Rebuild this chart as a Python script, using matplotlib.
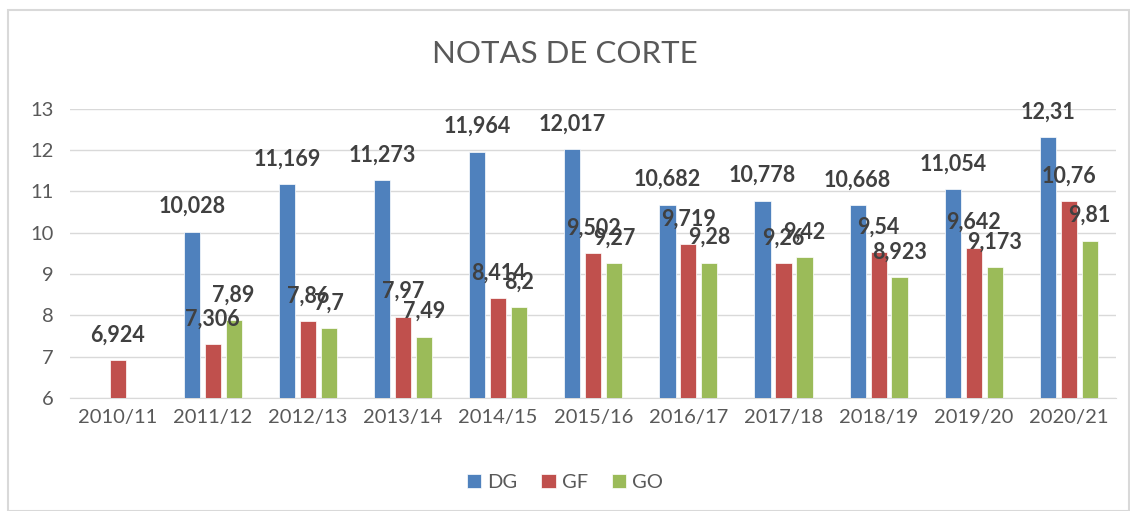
import matplotlib
matplotlib.use("Agg")
import matplotlib.pyplot as plt
import numpy as np
from matplotlib.patches import Rectangle

categories = ["2010/11", "2011/12", "2012/13", "2013/14", "2014/15", "2015/16",
              "2016/17", "2017/18", "2018/19", "2019/20", "2020/21"]
dg = [None, 10.028, 11.169, 11.273, 11.964, 12.017, 10.682, 10.778, 10.668, 11.054, 12.31]
gf = [6.924, 7.306, 7.86, 7.97, 8.414, 9.502, 9.719, 9.26, 9.54, 9.642, 10.76]
go = [None, 7.89, 7.7, 7.49, 8.2, 9.27, 9.28, 9.42, 8.923, 9.173, 9.81]
series = [("DG", dg, "#4F81BD"), ("GF", gf, "#C0504D"), ("GO", go, "#9BBB59")]

plt.rcParams['font.family'] = ['Lato', 'DejaVu Sans']

fig = plt.figure(figsize=(11.3, 5.11), dpi=100)
fig.patch.set_facecolor("white")
fig.patches.append(Rectangle((8/1130, 0), 1 - 8/1130 - 0.001, 1 - 10/511, transform=fig.transFigure,
                             fill=False, edgecolor="#D9D9D9", linewidth=1.5))
ax = fig.add_axes([0.062, 0.221, 0.926, 0.566])

x = np.arange(len(categories))
width = 0.17
pitch = 0.22
for i, (name, vals, color) in enumerate(series):
    off = (i - 1) * pitch
    xs = [xi + off for xi, v in zip(x, vals) if v is not None]
    vs = [v for v in vals if v is not None]
    ax.bar(xs, [v - 6 for v in vs], bottom=6, width=width, color=color, label=name,
           edgecolor="white", linewidth=0.5, zorder=3)
    for xi, v in zip(xs, vs):
        ax.annotate(f"{v:g}".replace(".", ","), (xi, v), xytext=(0, 18), textcoords="offset points",
                    ha="center", va="center", fontsize=15.5, fontweight="bold", color="#404040", zorder=5)

ax.set_ylim(6, 13)
ax.set_xlim(-0.5, len(categories) - 0.5)
ax.set_yticks(range(6, 14))
ax.set_xticks(x)
ax.set_xticklabels(categories)
ax.tick_params(axis="both", length=0, labelsize=14.5, colors="#595959")
ax.tick_params(axis="x", pad=8)
ax.tick_params(axis="y", pad=12)
ax.grid(axis="y", color="#D9D9D9", linewidth=1, zorder=0)
for s in ["top", "right", "left"]:
    ax.spines[s].set_visible(False)
ax.spines["bottom"].set_color("#D9D9D9")

fig.text(0.5, 0.895, "NOTAS DE CORTE", ha="center", va="center", fontsize=22.5, color="#595959")
fig.legend(loc="center", bbox_to_anchor=(0.5, 0.055), ncol=3, frameon=False, fontsize=14.5,
           handlelength=0.7, handleheight=0.7, handletextpad=0.3, columnspacing=1.2,
           labelcolor="#595959")

fig.savefig("out.png", dpi=100)
